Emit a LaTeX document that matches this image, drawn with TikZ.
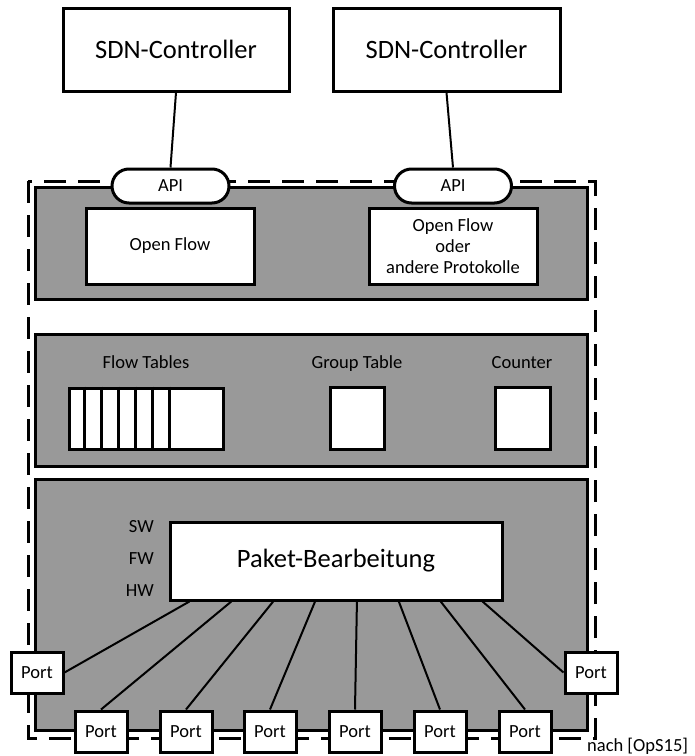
\documentclass[tikz,border=0pt]{standalone}
\usepackage{fontspec}
\setmainfont{Carlito}
\usetikzlibrary{calc}
\definecolor{panelgray}{RGB}{153,153,153}
\tikzset{box/.style={draw,line width=3pt,fill=white,inner sep=0pt},
panel/.style={draw,line width=3pt,fill=panelgray},
port/.style={box,small,minimum width=52pt,minimum height=41pt},
wire/.style={line width=2pt},
small/.style={font=\fontsize{18.5}{21}\selectfont},
big/.style={font=\fontsize{26.5}{30}\selectfont},
label/.style={small,inner sep=0pt}}

\begin{document}
\begin{tikzpicture}[x=1pt,y=-1pt]
\useasboundingbox (0,0) rectangle (695,756);

% switch frame and layers
\draw [line width=3pt,dash pattern=on 22pt off 12pt] (28,181) rectangle (595,738);
\draw [panel] (35,187) rectangle (587,299);
\draw [panel] (35,334) rectangle (587,466);
\draw [panel] (35,479) rectangle (587,730);

% controllers
\node (ctrl1) at (176,49.5) [box,big,minimum width=226pt,minimum height=83pt] {SDN-Controller};
\node (ctrl2) at (446.5,49.5) [box,big,minimum width=227pt,minimum height=83pt] {SDN-Controller};
\node (api1) at (170.5,186) [box,small,rounded corners=17pt,minimum width=117pt,minimum height=34pt] {API};
\node (api2) at (453,186) [box,small,rounded corners=17pt,minimum width=117pt,minimum height=34pt] {API};
\draw [wire] (ctrl1.south) -- (api1.north);
\draw [wire] (ctrl2.south) -- (api2.north);

\node (of1) at (170,246) [box,small,minimum width=168pt,minimum height=76pt] {Open Flow};
\node (of2) at (453,246) [box,small,minimum width=168pt,minimum height=76pt,align=center] {Open Flow\\oder\\andere Protokolle};

% tables
\node (ftlabel) at (146,368) [label,anchor=base] {Flow Tables};
\node (gtlabel) at (357,368) [label,anchor=base] {Group Table};
\node (ctlabel) at (522,368) [label,anchor=base] {Counter};
\node (ft) at (146,418.5) [box,minimum width=154pt,minimum height=61pt] {};
\foreach \x in {1,...,6} {
\draw [line width=3pt] ($(ft.north west)+(\x*17,0)$) -- ($(ft.south west)+(\x*17,0)$);
}
\node (gt) at (357,418) [box,minimum width=54pt,minimum height=62pt] {};
\node (ct) at (522.5,418) [box,minimum width=55pt,minimum height=62pt] {};

% packet processing
\node (paket) at (336,561) [box,big,minimum width=332pt,minimum height=78pt] {Paket-Bearbeitung};
\node (sw) at (154,527) [label,anchor=east] {SW};
\node (fw) at (154,559) [label,anchor=east] {FW};
\node (hw) at (154,591) [label,anchor=east] {HW};

% ports
\node (pl) at (37,672.5) [port] {Port};
\node (pr) at (591,672.5) [port] {Port};
\foreach \x [count=\i] in {101,186,270,355,440,525} {
\node (b\i) at (\x,731.5) [port] {Port};
}
\foreach \p [count=\i] in {pl.east,b1.north,b2.north,b3.north,b4.north,b5.north,b6.north,pr.west} {
\draw [wire] ($(paket.south west)!{(\i-0.5)/8}!(paket.south east)$) -- (\p);
}

\node (src) at (587,746) [label,anchor=west] {nach [OpS15]};
\end{tikzpicture}
\end{document}
